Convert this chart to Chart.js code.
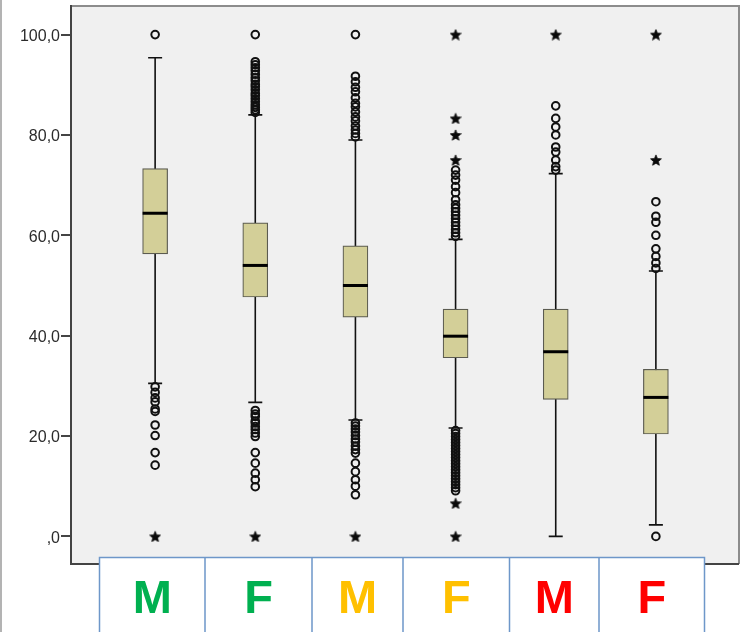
<!DOCTYPE html>
<html>
<head>
<meta charset="utf-8">
<script src="https://cdn.jsdelivr.net/npm/chart.js@4/dist/chart.umd.min.js"></script>
<style>
  html, body { margin: 0; padding: 0; background: #ffffff; }
  #wrap { position: relative; width: 740px; height: 632px; overflow: hidden; }
  canvas { display: block; }
</style>
</head>
<body>
<div id="wrap"><canvas id="c" width="740" height="632"></canvas></div>
<script>
// Group labels (sex) and their colours
const groups = ['M', 'F', 'M', 'F', 'M', 'F'];
const groupColors = ['#00B050', '#00B050', '#FFC000', '#FFC000', '#FF0000', '#FF0000'];

// Box statistics per group
const q1 = [56.3, 47.7, 43.7, 35.6, 27.3, 20.4];
const medians = [64.4, 54.0, 50.0, 39.9, 36.8, 27.7];
const q3 = [73.3, 62.5, 57.9, 45.3, 45.3, 33.3];
const whiskerLow = [30.5, 26.7, 23.2, 21.6, 0.0, 2.3];
const whiskerHigh = [95.4, 84.0, 79.0, 59.2, 72.3, 52.9];

// Outliers (circles) per group
const outliers = [
  [100, 29.8, 28.7, 27.6, 26.8, 25.4, 24.9, 22.2, 20.1, 16.7, 14.2],
  [100, 94.6, 94.0, 93.4, 92.8, 92.1, 91.4, 90.8, 90.1, 89.6, 89.0, 88.3, 87.8, 87.2, 86.6, 86.0, 85.5, 85.0, 84.5,
   25.1, 24.4, 23.9, 23.0, 22.6, 21.9, 21.3, 20.6, 19.9, 16.7, 14.6, 12.6, 11.3, 9.9],
  [100, 91.7, 90.6, 89.5, 88.6, 87.4, 86.3, 85.6, 84.6, 83.6, 82.8, 81.8, 81.0, 80.3, 79.6,
   22.6, 22.0, 21.4, 20.8, 20.1, 19.4, 18.8, 18.0, 17.3, 16.6, 14.6, 12.9, 11.3, 10.0, 8.3],
  [73.0, 72.0, 71.0, 69.7, 68.5, 67.1, 66.1, 65.4, 64.7, 64.0, 63.3, 62.6, 61.9, 61.2, 60.5, 59.8,
   21.1, 20.5, 19.9, 19.3, 18.7, 18.1, 17.5, 16.9, 16.3, 15.7, 15.1, 14.5, 13.9, 13.3, 12.7, 12.1, 11.5, 10.9, 10.3, 9.7, 9.1],
  [85.8, 83.3, 81.6, 80.0, 77.6, 76.6, 75.0, 73.7, 73.0],
  [66.7, 63.8, 62.6, 60.0, 57.3, 55.8, 54.5, 53.4, 0]
];

// Extreme values (stars) per group
const extremes = [
  [0],
  [0],
  [0],
  [100, 83.3, 80.0, 75.0, 6.6, 0],
  [100],
  [100, 75.0]
];

// Value axis ticks
const yTicks = [0, 20, 40, 60, 80, 100];

// Filled five-point star used as the extreme-value marker
function makeStar(size, color) {
  const cv = document.createElement('canvas');
  cv.width = size; cv.height = size;
  const g = cv.getContext('2d');
  const cx = size / 2, cy = size / 2 + 0.6, R = size / 2 - 0.3, r = R * 0.45;
  g.beginPath();
  for (let k = 0; k < 10; k++) {
    const rad = k % 2 === 0 ? R : r;
    const a = -Math.PI / 2 + k * Math.PI / 5;
    const px = cx + rad * Math.cos(a), py = cy + rad * Math.sin(a);
    if (k === 0) g.moveTo(px, py); else g.lineTo(px, py);
  }
  g.closePath();
  g.fillStyle = color;
  g.fill();
  g.strokeStyle = color;
  g.lineWidth = 0.8;
  g.stroke();
  return cv;
}
const starMarker = makeStar(12, '#0a0a0a');

const boxData = groups.map((g, i) => ({ x: i + 1, y: [q1[i], q3[i]] }));
const outlierData = [];
outliers.forEach((vals, i) => vals.forEach(v => outlierData.push({ x: i + 1, y: v })));
const extremeData = [];
extremes.forEach((vals, i) => vals.forEach(v => extremeData.push({ x: i + 1, y: v })));

const fmt = v => (v === 0 ? ',0' : v.toFixed(1).replace('.', ','));

// Panel background and frame
const framePlugin = {
  id: 'frame',
  beforeDraw(chart) {
    const { ctx, chartArea: a } = chart;
    ctx.save();
    ctx.fillStyle = '#F0F0F0';
    ctx.fillRect(a.left, a.top, a.right - a.left, a.bottom - a.top);
    // outer left rule
    ctx.strokeStyle = '#9a9a9a';
    ctx.lineWidth = 1.5;
    ctx.beginPath(); ctx.moveTo(1, 0); ctx.lineTo(1, chart.height); ctx.stroke();
    // top and right borders
    ctx.strokeStyle = '#8c8c8c';
    ctx.lineWidth = 2;
    ctx.beginPath();
    ctx.moveTo(a.left, a.top); ctx.lineTo(a.right, a.top); ctx.lineTo(a.right, a.bottom);
    ctx.stroke();
    // bottom axis line
    ctx.strokeStyle = '#444444';
    ctx.beginPath(); ctx.moveTo(a.left, a.bottom); ctx.lineTo(a.right, a.bottom); ctx.stroke();
    ctx.restore();
  }
};

// Whiskers (under the boxes) and medians (over the boxes)
const whiskerPlugin = {
  id: 'whiskers',
  beforeDatasetsDraw(chart) {
    const { ctx, scales: { x, y } } = chart;
    ctx.save();
    ctx.strokeStyle = '#111111';
    ctx.lineWidth = 1.6;
    groups.forEach((g, i) => {
      const px = x.getPixelForValue(i + 1);
      const lo = y.getPixelForValue(whiskerLow[i]);
      const hi = y.getPixelForValue(whiskerHigh[i]);
      ctx.beginPath();
      ctx.moveTo(px, lo); ctx.lineTo(px, hi);
      ctx.moveTo(px - 7, lo); ctx.lineTo(px + 7, lo);
      ctx.moveTo(px - 7, hi); ctx.lineTo(px + 7, hi);
      ctx.stroke();
    });
    ctx.restore();
  },
  afterDatasetDraw(chart, args) {
    if (args.index !== 0) return;
    const { ctx, scales: { x, y } } = chart;
    ctx.save();
    ctx.strokeStyle = '#000000';
    ctx.lineWidth = 3;
    groups.forEach((g, i) => {
      const px = x.getPixelForValue(i + 1);
      const py = y.getPixelForValue(medians[i]);
      ctx.beginPath(); ctx.moveTo(px - 12.5, py); ctx.lineTo(px + 12.5, py); ctx.stroke();
    });
    ctx.restore();
  }
};

// Category table beneath the panel
const tablePlugin = {
  id: 'groupTable',
  afterDraw(chart) {
    const { ctx } = chart;
    const edges = [99.5, 205, 312, 403, 509.5, 599, 704.5];
    const top = 557.5, bottom = chart.height + 5;
    ctx.save();
    ctx.fillStyle = '#ffffff';
    ctx.fillRect(edges[0], top, edges[edges.length - 1] - edges[0], bottom - top);
    ctx.strokeStyle = '#6E97C9';
    ctx.lineWidth = 1.5;
    ctx.beginPath();
    ctx.moveTo(edges[0], bottom); ctx.lineTo(edges[0], top);
    ctx.lineTo(edges[edges.length - 1], top); ctx.lineTo(edges[edges.length - 1], bottom);
    for (let k = 1; k < edges.length - 1; k++) { ctx.moveTo(edges[k], top); ctx.lineTo(edges[k], bottom); }
    ctx.stroke();
    ctx.font = 'bold 47px "Liberation Sans", Arial, sans-serif';
    ctx.textAlign = 'center';
    ctx.textBaseline = 'alphabetic';
    groups.forEach((g, i) => {
      ctx.fillStyle = groupColors[i];
      ctx.fillText(g, (edges[i] + edges[i + 1]) / 2, 612.5);
    });
    ctx.restore();
  }
};

new Chart(document.getElementById('c'), {
  type: 'bar',
  data: {
    datasets: [
      {
        type: 'bar',
        label: 'box',
        data: boxData,
        backgroundColor: '#D3CF98',
        borderColor: '#5b5b50',
        borderWidth: 1.2,
        borderSkipped: false,
        barThickness: 25,
        grouped: false,
        order: 2
      },
      {
        type: 'scatter',
        label: 'outliers',
        data: outlierData,
        pointStyle: 'circle',
        pointRadius: 3.8,
        pointBorderWidth: 2,
        pointBorderColor: '#111111',
        pointBackgroundColor: 'rgba(0,0,0,0)',
        order: 1
      },
      {
        type: 'scatter',
        label: 'extremes',
        data: extremeData,
        pointStyle: starMarker,
        order: 0
      }
    ]
  },
  options: {
    responsive: false,
    animation: false,
    devicePixelRatio: 1,
    layout: { autoPadding: false, padding: { left: 0, right: 1, top: 6, bottom: 68 } },
    plugins: { legend: { display: false }, tooltip: { enabled: false } },
    scales: {
      x: {
        type: 'linear',
        offset: false,
        min: 0.16,
        max: 6.83,
        display: false,
        grid: { display: false }
      },
      y: {
        type: 'linear',
        min: -5.5,
        max: 105.7,
        afterBuildTicks: s => { s.ticks = yTicks.map(v => ({ value: v })); },
        afterFit: s => {
          s.width = 71;
          s.paddingTop = 0; s.paddingBottom = 0; s.paddingLeft = 0; s.paddingRight = 0;
        },
        border: { display: true, color: '#444444', width: 2 },
        grid: { display: true, drawOnChartArea: false, drawTicks: true, tickLength: 10, color: '#444444', lineWidth: 2 },
        ticks: {
          padding: 1,
          labelOffset: 2,
          color: '#2b2b2b',
          font: { family: '"Liberation Sans", Arial, sans-serif', size: 16 },
          callback: v => fmt(v)
        }
      }
    }
  },
  plugins: [framePlugin, whiskerPlugin, tablePlugin]
});
</script>
</body>
</html>
